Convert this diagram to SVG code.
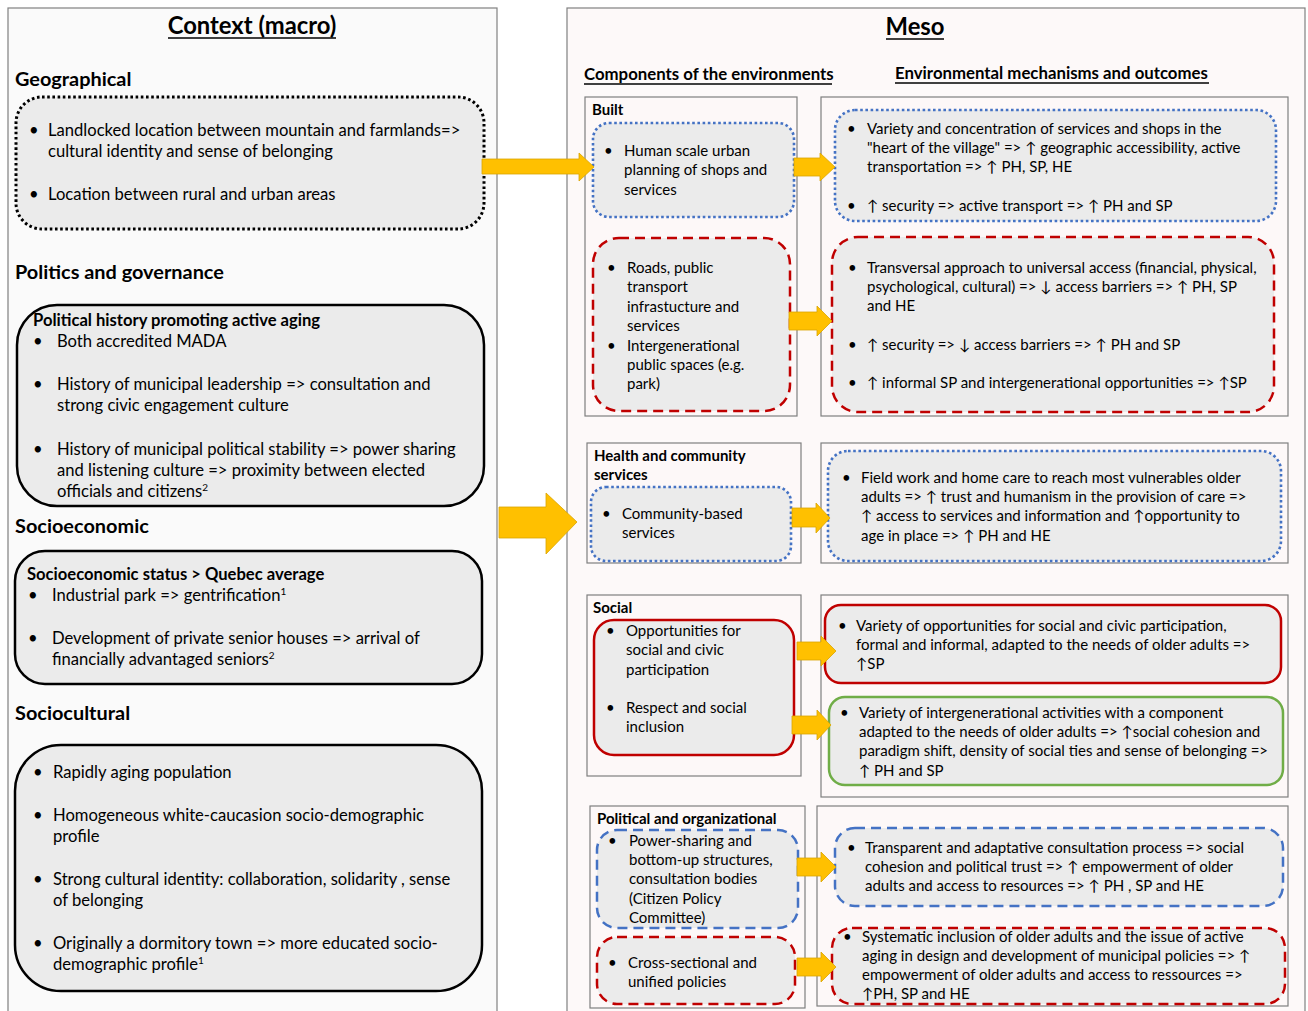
<svg xmlns="http://www.w3.org/2000/svg" width="1308" height="1011" viewBox="0 0 1308 1011">
<defs>
<style>
text{font-family:Lato,"Liberation Sans","DejaVu Sans",sans-serif;fill:#000}
.L{font-size:16.6px}
.R{font-size:15px}
.b{font-weight:bold}
.h1{font-size:23.8px;font-weight:bold}
.h2{font-size:19.9px;font-weight:bold}
.h3{font-size:16.8px;font-weight:bold}
.panel{stroke:#808080;stroke-width:1.2}
.comp{fill:#fdf8f8;stroke:#7f7f7f;stroke-width:1.2}
.box{fill:#ebebeb}
.blk{stroke:#000;stroke-width:2.5}
.blkdot{stroke:#000;stroke-width:3;stroke-dasharray:2.6 2.6}
.bdot{stroke:#4472c4;stroke-width:2.6;stroke-dasharray:2.6 2.6}
.bdash{stroke:#4472c4;stroke-width:2.5;stroke-dasharray:10 6}
.rdash{stroke:#c00000;stroke-width:2.5;stroke-dasharray:10 6}
.rsol{stroke:#c00000;stroke-width:2.5}
.gsol{stroke:#70ad47;stroke-width:2.5}
.arr{fill:#ffc000;stroke:#d9a400;stroke-width:0.8}
.ul{stroke:#000;stroke-width:1.5}
.bu{font-size:12px}
</style>
</defs>

<g id="panels">
<rect x="8" y="8" width="489" height="1012" fill="#fafafa" class="panel"/>
<rect x="567" y="8" width="738" height="1012" fill="#fdf9f9" class="panel"/>
</g>

<g id="headers">
<text x="252" y="34" class="h1" text-anchor="middle">Context (macro)</text>
<line x1="168" y1="38" x2="336" y2="38" class="ul"/>
<text x="915" y="35" class="h1" text-anchor="middle">Meso</text>
<line x1="886" y1="39" x2="944" y2="39" class="ul"/>
<text x="584" y="80" class="h3">Components of the environments</text>
<line x1="584" y1="84" x2="832" y2="84" class="ul"/>
<text x="895" y="79" class="h3">Environmental mechanisms and outcomes</text>
<line x1="895" y1="83" x2="1209" y2="83" class="ul"/>
<text x="15" y="86" class="h2">Geographical</text>
<text x="15" y="279" class="h2">Politics and governance</text>
<text x="15" y="533" class="h2">Socioeconomic</text>
<text x="15" y="720" class="h2">Sociocultural</text>
</g>

<g id="geographical">
<rect x="16" y="97" width="468" height="132" rx="26" class="box blkdot"/>
<text class="L"><tspan x="29" y="136">•</tspan><tspan x="48" y="136">Landlocked location between mountain and farmlands=&gt;</tspan><tspan x="48" y="157">cultural identity and sense of belonging</tspan><tspan x="29" y="200">•</tspan><tspan x="48" y="200">Location between rural and urban areas</tspan></text>
</g>

<g id="politics">
<rect x="17" y="305" width="467" height="201" rx="40" class="box blk"/>
<text x="33" y="326" class="L b">Political history promoting active aging</text>
<text class="L"><tspan x="33" y="347">•</tspan><tspan x="57" y="347">Both accredited MADA</tspan><tspan x="33" y="390">•</tspan><tspan x="57" y="390">History of municipal leadership =&gt; consultation and</tspan><tspan x="57" y="411">strong civic engagement culture</tspan><tspan x="33" y="455">•</tspan><tspan x="57" y="455">History of municipal political stability =&gt; power sharing</tspan><tspan x="57" y="476">and listening culture =&gt; proximity between elected</tspan><tspan x="57" y="497">officials and citizens</tspan><tspan font-size="10" dy="-6">2</tspan></text>
</g>

<g id="socioeconomic">
<rect x="15" y="551" width="467" height="133" rx="30" class="box blk"/>
<text x="27" y="580" class="L b">Socioeconomic status &gt; Quebec average</text>
<text class="L"><tspan x="28" y="601">•</tspan><tspan x="52" y="601">Industrial park =&gt; gentrification</tspan><tspan font-size="10" dy="-6">1</tspan><tspan x="28" y="644">•</tspan><tspan x="52" y="644">Development of private senior houses =&gt; arrival of</tspan><tspan x="52" y="665">financially advantaged seniors</tspan><tspan font-size="10" dy="-6">2</tspan></text>
</g>

<g id="sociocultural">
<rect x="15" y="745" width="467" height="246" rx="46" class="box blk"/>
<text class="L"><tspan x="33" y="778">•</tspan><tspan x="53" y="778">Rapidly aging population</tspan><tspan x="33" y="821">•</tspan><tspan x="53" y="821">Homogeneous white-caucasion socio-demographic</tspan><tspan x="53" y="842">profile</tspan><tspan x="33" y="885">•</tspan><tspan x="53" y="885">Strong cultural identity: collaboration, solidarity , sense</tspan><tspan x="53" y="906">of belonging</tspan><tspan x="33" y="949">•</tspan><tspan x="53" y="949">Originally a dormitory town =&gt; more educated socio-</tspan><tspan x="53" y="970">demographic profile</tspan><tspan font-size="10" dy="-6">1</tspan></text>
</g>

<g id="built">
<rect x="585" y="97" width="212" height="319" class="comp"/>
<text x="592" y="115" class="R b">Built</text>
<rect x="593" y="123" width="201" height="94" rx="16" class="box bdot"/>
<text class="R"><tspan x="604" y="156">•</tspan><tspan x="624" y="156">Human scale urban</tspan><tspan x="624" y="175">planning of shops and</tspan><tspan x="624" y="195">services</tspan></text>
<rect x="593" y="238" width="197" height="173" rx="26" class="box rdash"/>
<text class="R"><tspan x="607" y="273">•</tspan><tspan x="627" y="273">Roads, public</tspan><tspan x="627" y="292">transport</tspan><tspan x="627" y="312">infrastucture and</tspan><tspan x="627" y="331">services</tspan><tspan x="607" y="351">•</tspan><tspan x="627" y="351">Intergenerational</tspan><tspan x="627" y="370">public spaces (e.g.</tspan><tspan x="627" y="389">park)</tspan></text>
</g>

<g id="built-outcomes">
<rect x="821" y="97" width="467" height="319" class="comp"/>
<rect x="835" y="110" width="441" height="111" rx="20" class="box bdot"/>
<text class="R"><tspan x="847" y="134">•</tspan><tspan x="867" y="134">Variety and concentration of services and shops in the</tspan><tspan x="867" y="153">"heart of the village" =&gt; ↑ geographic accessibility, active</tspan><tspan x="867" y="172">transportation =&gt; ↑ PH, SP, HE</tspan><tspan x="847" y="211">•</tspan><tspan x="867" y="211">↑ security =&gt; active transport =&gt; ↑ PH and SP</tspan></text>
<rect x="832" y="237" width="442" height="175" rx="26" class="box rdash"/>
<text class="R"><tspan x="848" y="273">•</tspan><tspan x="867" y="273">Transversal approach to universal access (financial, physical,</tspan><tspan x="867" y="292">psychological, cultural) =&gt; ↓ access barriers =&gt; ↑ PH, SP</tspan><tspan x="867" y="311">and HE</tspan><tspan x="848" y="350">•</tspan><tspan x="867" y="350">↑ security =&gt; ↓ access barriers =&gt; ↑ PH and SP</tspan><tspan x="848" y="388">•</tspan><tspan x="867" y="388">↑ informal SP and intergenerational opportunities =&gt; ↑SP</tspan></text>
</g>

<g id="health">
<rect x="587" y="443" width="214" height="120" class="comp"/>
<text class="R b"><tspan x="594" y="461">Health and community</tspan><tspan x="594" y="480">services</tspan></text>
<rect x="591" y="487" width="200" height="74" rx="15" class="box bdot"/>
<text class="R"><tspan x="602" y="519">•</tspan><tspan x="622" y="519">Community-based</tspan><tspan x="622" y="538">services</tspan></text>
</g>

<g id="health-outcomes">
<rect x="821" y="443" width="467" height="120" class="comp"/>
<rect x="828" y="451" width="453" height="110" rx="20" class="box bdot"/>
<text class="R"><tspan x="842" y="483">•</tspan><tspan x="861" y="483">Field work and home care to reach most vulnerables older</tspan><tspan x="861" y="502">adults =&gt; ↑ trust and  humanism in the provision of care =&gt;</tspan><tspan x="861" y="521">↑ access to services and information and ↑opportunity to</tspan><tspan x="861" y="541">age in place =&gt; ↑ PH and HE</tspan></text>
</g>

<g id="social">
<rect x="587" y="595" width="214" height="181" class="comp"/>
<text x="593" y="613" class="R b">Social</text>
<rect x="594" y="620" width="200" height="135" rx="20" class="box rsol"/>
<text class="R"><tspan x="606" y="636">•</tspan><tspan x="626" y="636">Opportunities for</tspan><tspan x="626" y="655">social and civic</tspan><tspan x="626" y="675">participation</tspan><tspan x="606" y="713">•</tspan><tspan x="626" y="713">Respect and social</tspan><tspan x="626" y="732">inclusion</tspan></text>
</g>

<g id="social-outcomes">
<rect x="821" y="595" width="467" height="202" class="comp"/>
<rect x="825" y="605" width="456" height="78" rx="16" class="box rsol"/>
<text class="R"><tspan x="838" y="631">•</tspan><tspan x="856" y="631">Variety of opportunities for social and civic participation,</tspan><tspan x="856" y="650">formal and informal, adapted to the needs of older adults =&gt;</tspan><tspan x="856" y="669">↑SP</tspan></text>
<rect x="829" y="697" width="454" height="88" rx="16" class="box gsol"/>
<text class="R"><tspan x="840" y="718">•</tspan><tspan x="859" y="718">Variety of intergenerational activities with a component</tspan><tspan x="859" y="737">adapted to the needs of older adults =&gt; ↑social cohesion and</tspan><tspan x="859" y="756">paradigm shift, density of social ties and sense of belonging =&gt;</tspan><tspan x="859" y="776">↑ PH and SP</tspan></text>
</g>

<g id="political">
<rect x="590" y="806" width="215" height="202" class="comp"/>
<text x="597" y="824" class="R b">Political and organizational</text>
<rect x="597" y="830" width="201" height="98" rx="20" class="box bdash"/>
<text class="R"><tspan x="608" y="846">•</tspan><tspan x="629" y="846">Power-sharing and</tspan><tspan x="629" y="865">bottom-up structures,</tspan><tspan x="629" y="884">consultation bodies</tspan><tspan x="629" y="904">(Citizen Policy</tspan><tspan x="629" y="923">Committee)</tspan></text>
<rect x="597" y="937" width="198" height="67" rx="20" class="box rdash"/>
<text class="R"><tspan x="608" y="968">•</tspan><tspan x="628" y="968">Cross-sectional and</tspan><tspan x="628" y="987">unified policies</tspan></text>
</g>

<g id="political-outcomes">
<rect x="817" y="806" width="471" height="200" class="comp"/>
<rect x="835" y="828" width="448" height="78" rx="20" class="box bdash"/>
<text class="R"><tspan x="847" y="853">•</tspan><tspan x="865" y="853">Transparent and adaptative consultation process =&gt; social</tspan><tspan x="865" y="872">cohesion and political trust =&gt; ↑ empowerment of older</tspan><tspan x="865" y="891">adults and access to resources =&gt; ↑ PH , SP and HE</tspan></text>
<rect x="832" y="928" width="453" height="76" rx="20" class="box rdash"/>
<text class="R"><tspan x="843" y="942">•</tspan><tspan x="862" y="942">Systematic inclusion of older adults and the issue of active</tspan><tspan x="862" y="961">aging in design and development of municipal policies =&gt; ↑</tspan><tspan x="862" y="980">empowerment of older adults and access to ressources =&gt;</tspan><tspan x="862" y="999">↑PH, SP and HE</tspan></text>
</g>

<g id="connectors">
<polygon class="arr" points="482,159 579,159 579,153 594,167 579,181 579,174 482,174"/>
<polygon class="arr" points="499,507 546,507 546,493 577,522 546,554 546,538 499,538"/>
<polygon class="arr" points="794,158 820,158 820,153 835,167 820,181 820,176 794,176"/>
<polygon class="arr" points="789,312 817,312 817,306 832,321 817,336 817,330 789,330"/>
<polygon class="arr" points="792,508 816,508 816,503 830,518 816,533 816,527 792,527"/>
<polygon class="arr" points="797,642 821,642 821,636 836,651 821,666 821,660 797,660"/>
<polygon class="arr" points="792,716 817,716 817,710 831,725 817,740 817,734 792,734"/>
<polygon class="arr" points="797,858 821,858 821,852 836,867 821,882 821,876 797,876"/>
<polygon class="arr" points="797,958 821,958 821,952 836,967 821,982 821,976 797,976"/>
</g>
</svg>
